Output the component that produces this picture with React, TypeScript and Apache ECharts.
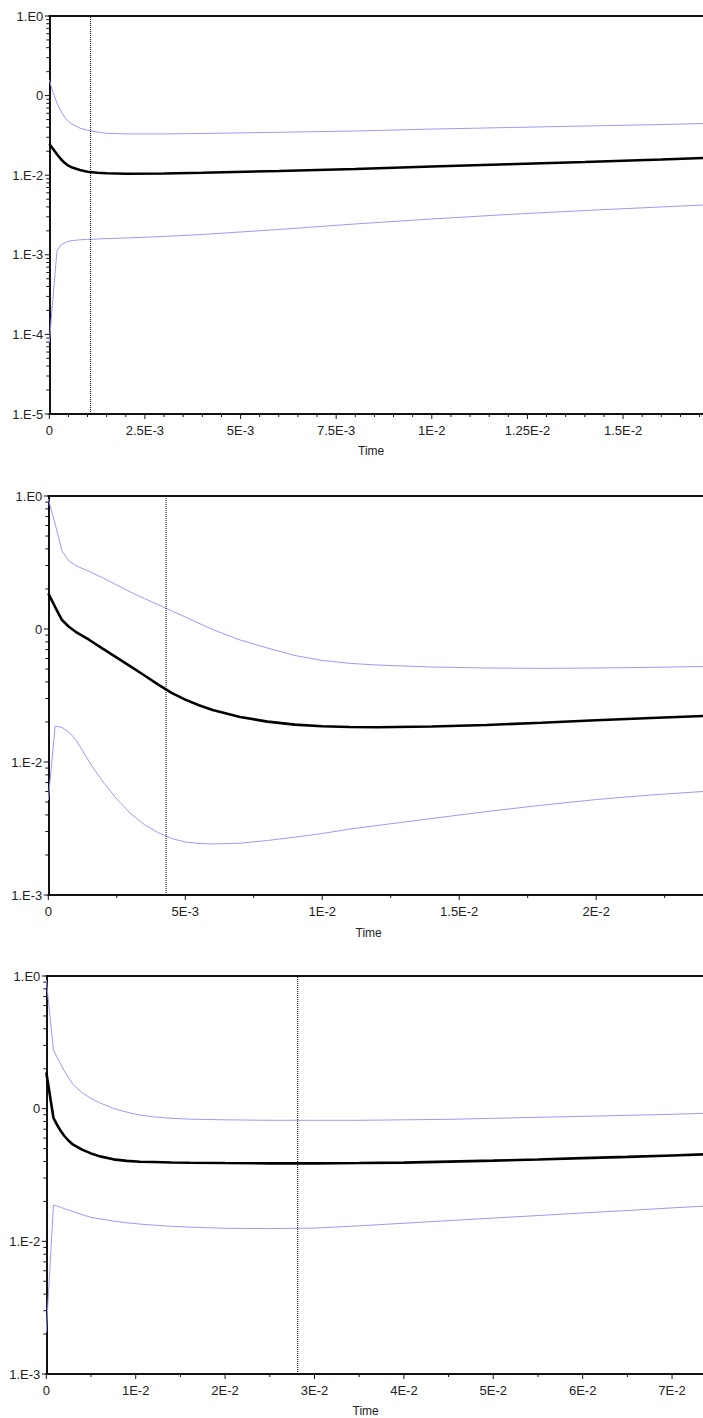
import React, { useEffect, useRef } from "react";
import * as echarts from "echarts";

// ---------- Panel 1 ----------
const time1 = [0, 1e-4, 2e-4, 3e-4, 4e-4, 5e-4, 6e-4, 8e-4, 1e-3, 1.25e-3, 1.5e-3, 2e-3, 3e-3, 4e-3, 6e-3, 8e-3, 1e-2, 1.2e-2, 1.4e-2, 1.6e-2, 1.709e-2];
const upper1 = [0.157, 0.1078, 0.0807, 0.0641, 0.0538, 0.0473, 0.0436, 0.039, 0.0367, 0.0349, 0.0336, 0.033, 0.033, 0.0334, 0.0346, 0.0359, 0.038, 0.0397, 0.0415, 0.0433, 0.0446];
const mean1 = [0.02466, 0.02134, 0.01831, 0.01597, 0.01431, 0.01316, 0.01246, 0.01162, 0.01107, 0.01072, 0.01056, 0.01044, 0.0105, 0.01075, 0.0113, 0.01197, 0.01286, 0.01371, 0.01465, 0.01575, 0.01644];
const lower1 = [7.8e-5, 3.04e-4, 1.116e-3, 1.327e-3, 1.415e-3, 1.477e-3, 1.508e-3, 1.543e-3, 1.561e-3, 1.579e-3, 1.598e-3, 1.626e-3, 1.7e-3, 1.8e-3, 2.08e-3, 2.44e-3, 2.82e-3, 3.21e-3, 3.6e-3, 3.99e-3, 4.22e-3];
const xTicks1 = [0, 2.5e-3, 5e-3, 7.5e-3, 1e-2, 1.25e-2, 1.5e-2];
const xLabels1 = ["0", "2.5E-3", "5E-3", "7.5E-3", "1E-2", "1.25E-2", "1.5E-2"];
const yDecades1 = [1, 1e-1, 1e-2, 1e-3, 1e-4, 1e-5];
const yLabels1 = ["1.E0", "0", "1.E-2", "1.E-3", "1.E-4", "1.E-5"];
const marker1 = 1.08e-3;

// ---------- Panel 2 ----------
const time2 = [0, 2.5e-4, 5e-4, 7.5e-4, 1e-3, 1.5e-3, 2e-3, 2.5e-3, 3e-3, 3.5e-3, 4e-3, 4.5e-3, 5e-3, 5.5e-3, 6e-3, 7e-3, 8e-3, 9e-3, 1e-2, 1.1e-2, 1.2e-2, 1.4e-2, 1.6e-2, 1.8e-2, 2e-2, 2.2e-2, 2.39e-2];
const upper2 = [0.9494, 0.616, 0.386, 0.3246, 0.3002, 0.2705, 0.2418, 0.2142, 0.1897, 0.1696, 0.1528, 0.137, 0.1231, 0.1104, 0.0991, 0.0827, 0.072, 0.0632, 0.058, 0.0552, 0.0536, 0.0518, 0.0509, 0.0506, 0.0509, 0.0515, 0.0522];
const mean2 = [0.1855, 0.1463, 0.1168, 0.1039, 0.0953, 0.0827, 0.071, 0.061, 0.0523, 0.0449, 0.0383, 0.0331, 0.02945, 0.02669, 0.0246, 0.0218, 0.02012, 0.01911, 0.01859, 0.01833, 0.01827, 0.01849, 0.01898, 0.01975, 0.02058, 0.02142, 0.02218];
const lower2 = [5.18e-3, 0.01865, 0.01817, 0.01681, 0.01476, 0.01, 7.07e-3, 5.27e-3, 4.1e-3, 3.39e-3, 2.95e-3, 2.66e-3, 2.5e-3, 2.44e-3, 2.42e-3, 2.45e-3, 2.57e-3, 2.72e-3, 2.9e-3, 3.13e-3, 3.33e-3, 3.76e-3, 4.24e-3, 4.73e-3, 5.22e-3, 5.65e-3, 6e-3];
const xTicks2 = [0, 5e-3, 1e-2, 1.5e-2, 2e-2];
const xLabels2 = ["0", "5E-3", "1E-2", "1.5E-2", "2E-2"];
const yDecades23 = [1, 1e-1, 1e-2, 1e-3];
const yLabels23 = ["1.E0", "0", "1.E-2", "1.E-3"];
const marker2 = 4.3e-3;

// ---------- Panel 3 ----------
const time3 = [0, 8e-4, 1.2e-3, 1.6e-3, 2e-3, 2.5e-3, 3e-3, 4e-3, 5e-3, 6e-3, 7.5e-3, 9e-3, 1.05e-2, 1.2e-2, 1.4e-2, 1.6e-2, 2e-2, 2.5e-2, 3e-2, 3.5e-2, 4e-2, 4.5e-2, 5e-2, 5.5e-2, 6e-2, 6.5e-2, 7e-2, 7.346e-2];
const upper3 = [0.933, 0.2771, 0.2446, 0.2169, 0.1938, 0.1702, 0.1522, 0.1318, 0.1195, 0.1105, 0.1005, 0.0941, 0.0894, 0.0868, 0.0846, 0.0834, 0.0824, 0.0817, 0.0817, 0.0817, 0.0824, 0.0831, 0.0846, 0.0861, 0.0875, 0.0891, 0.0907, 0.0922];
const mean3 = [0.1873, 0.0853, 0.0756, 0.0682, 0.0625, 0.0573, 0.0535, 0.0491, 0.046, 0.0437, 0.0415, 0.0404, 0.0398, 0.0396, 0.0393, 0.0391, 0.0389, 0.0387, 0.0387, 0.0389, 0.0392, 0.0399, 0.0406, 0.0414, 0.0424, 0.0433, 0.0444, 0.0452];
const lower3 = [2.06e-3, 0.01882, 0.01843, 0.01805, 0.01765, 0.0172, 0.01676, 0.01589, 0.01516, 0.01477, 0.01422, 0.01379, 0.01348, 0.01325, 0.01298, 0.0128, 0.01254, 0.01247, 0.01259, 0.01309, 0.01369, 0.01432, 0.01498, 0.01564, 0.01636, 0.01708, 0.01787, 0.0184];
const xTicks3 = [0, 1e-2, 2e-2, 3e-2, 4e-2, 5e-2, 6e-2, 7e-2];
const xLabels3 = ["0", "1E-2", "2E-2", "3E-2", "4E-2", "5E-2", "6E-2", "7E-2"];
const marker3 = 2.812e-2;

const minorMultipliers = [2, 3, 4, 5, 6, 7, 8, 9];

const FONT = "'Liberation Sans', Arial, sans-serif";
const AXIS_COLOR = "#111";
const TEXT_COLOR = "#222";
const BLUE = "#9a9aff";

type Panel = {
  left: number; top: number; height: number;
  time: number[]; upper: number[]; mean: number[]; lower: number[];
  xMax: number; xTicks: number[]; xLabels: string[]; xMinorStep: number;
  yMin: number; yDecades: number[]; yLabels: string[];
  marker: number; nameGap: number; namePadRight: number;
};

const panels: Panel[] = [
  { left: 49.3, top: 16, height: 398, time: time1, upper: upper1, mean: mean1, lower: lower1,
    xMax: 1.709e-2, xTicks: xTicks1, xLabels: xLabels1, xMinorStep: 5e-4,
    yMin: 1e-5, yDecades: yDecades1, yLabels: yLabels1, marker: marker1, nameGap: 31, namePadRight: 10 },
  { left: 48.3, top: 496, height: 399, time: time2, upper: upper2, mean: mean2, lower: lower2,
    xMax: 2.39e-2, xTicks: xTicks2, xLabels: xLabels2, xMinorStep: 2.5e-3,
    yMin: 1e-3, yDecades: yDecades23, yLabels: yLabels23, marker: marker2, nameGap: 32, namePadRight: 14 },
  { left: 46.3, top: 976, height: 400, time: time3, upper: upper3, mean: mean3, lower: lower3,
    xMax: 7.346e-2, xTicks: xTicks3, xLabels: xLabels3, xMinorStep: 5e-3,
    yMin: 1e-3, yDecades: yDecades23, yLabels: yLabels23, marker: marker3, nameGap: 31, namePadRight: 18 },
];

function buildOption() {
  const grid: any[] = [];
  const xAxis: any[] = [];
  const yAxis: any[] = [];
  const series: any[] = [];

  panels.forEach((p, i) => {
    grid.push({ left: p.left, top: p.top, right: 0, height: p.height, containLabel: false });

    const xMain = xAxis.length;
    xAxis.push({
      type: "value", gridIndex: i, position: "bottom", min: 0, max: p.xMax,
      axisLine: { show: true, onZero: false, lineStyle: { color: AXIS_COLOR, width: 2 } },
      axisTick: { show: false },
      axisLabel: {
        customValues: p.xTicks, margin: 10, fontSize: 13, color: TEXT_COLOR, fontFamily: FONT,
        formatter: (v: number) => {
          const k = p.xTicks.findIndex((t) => Math.abs(t - v) < 1e-9);
          return k >= 0 ? p.xLabels[k] : "";
        },
      },
      splitLine: { show: false },
      name: "Time", nameLocation: "middle", nameGap: p.nameGap,
      nameTextStyle: { fontSize: 12, color: TEXT_COLOR, fontFamily: FONT, padding: [0, p.namePadRight, 0, 0] },
    });
    xAxis.push({
      type: "value", gridIndex: i, position: "top", min: 0, max: p.xMax,
      axisLine: { show: true, onZero: false, lineStyle: { color: AXIS_COLOR, width: 2 } },
      axisTick: { show: false }, axisLabel: { show: false }, splitLine: { show: false },
    });

    const yMain = yAxis.length;
    yAxis.push({
      type: "log", logBase: 10, gridIndex: i, position: "left", min: p.yMin, max: 1,
      axisLine: { show: true, onZero: false, lineStyle: { color: AXIS_COLOR, width: 2 } },
      axisTick: { show: false },
      axisLabel: {
        customValues: p.yDecades, margin: 6, fontSize: 13, color: TEXT_COLOR, fontFamily: FONT,
        padding: [6, 0, 0, 0],
        formatter: (v: number) => {
          const k = p.yDecades.findIndex((d) => Math.abs(Math.log10(d) - Math.log10(v)) < 1e-6);
          return k >= 0 ? p.yLabels[k] : "";
        },
      },
      splitLine: { show: false },
    });

    // tick marks: [x, y, kind (0 = x-axis tick, 1 = y-axis tick), length]
    const ticks: number[][] = [];
    p.xTicks.forEach((t) => ticks.push([t, p.yMin, 0, 5]));
    for (let k = 1; k * p.xMinorStep < p.xMax; k++) {
      const v = k * p.xMinorStep;
      if (!p.xTicks.some((t) => Math.abs(t - v) < 1e-9)) ticks.push([v, p.yMin, 0, 3]);
    }
    p.yDecades.forEach((d) => {
      ticks.push([0, d, 1, 4.5]);
      if (d < 1) minorMultipliers.forEach((m) => ticks.push([0, d * m, 1, 3]));
    });

    const pairs = (vals: number[]) => p.time.map((t, k) => [t, vals[k]]);
    series.push({
      type: "line", xAxisIndex: xMain, yAxisIndex: yMain, data: pairs(p.upper),
      showSymbol: false, symbol: "none", lineStyle: { color: BLUE, width: 1 }, itemStyle: { color: BLUE }, z: 2,
    });
    series.push({
      type: "line", xAxisIndex: xMain, yAxisIndex: yMain, data: pairs(p.lower),
      showSymbol: false, symbol: "none", lineStyle: { color: BLUE, width: 1 }, itemStyle: { color: BLUE }, z: 2,
    });
    series.push({
      type: "line", xAxisIndex: xMain, yAxisIndex: yMain, data: pairs(p.mean),
      showSymbol: false, symbol: "none", lineStyle: { color: "#000", width: 2.6 }, itemStyle: { color: "#000" }, z: 3,
    });
    series.push({
      type: "line", xAxisIndex: xMain, yAxisIndex: yMain,
      data: [[p.marker, p.yMin], [p.marker, 1]],
      showSymbol: false, symbol: "none", silent: true,
      lineStyle: { color: "#000", width: 1, type: [1, 1] }, z: 4,
    });
    series.push({
      type: "custom", xAxisIndex: xMain, yAxisIndex: yMain, data: ticks, clip: false, silent: true, z: 5,
      renderItem: (_params: any, api: any) => {
        const x = api.value(0);
        const y = api.value(1);
        const kind = api.value(2);
        const len = api.value(3);
        const pt = api.coord([x, y]);
        const shape = kind === 0
          ? { x1: pt[0], y1: pt[1], x2: pt[0], y2: pt[1] + len }
          : { x1: pt[0], y1: pt[1], x2: pt[0] - len, y2: pt[1] };
        return { type: "line", shape, style: { stroke: AXIS_COLOR, lineWidth: 1 } };
      },
    });
  });

  return { animation: false, backgroundColor: "#fff", grid, xAxis, yAxis, series };
}

export default function App() {
  const ref = useRef<HTMLDivElement>(null);
  useEffect(() => {
    document.body.style.margin = "0";
    document.body.style.overflow = "hidden";
    if (!ref.current) return;
    const chart = echarts.init(ref.current, undefined, { renderer: "svg" });
    chart.setOption(buildOption() as any);
    return () => chart.dispose();
  }, []);
  return <div ref={ref} style={{ width: 703, height: 1418 }} />;
}
